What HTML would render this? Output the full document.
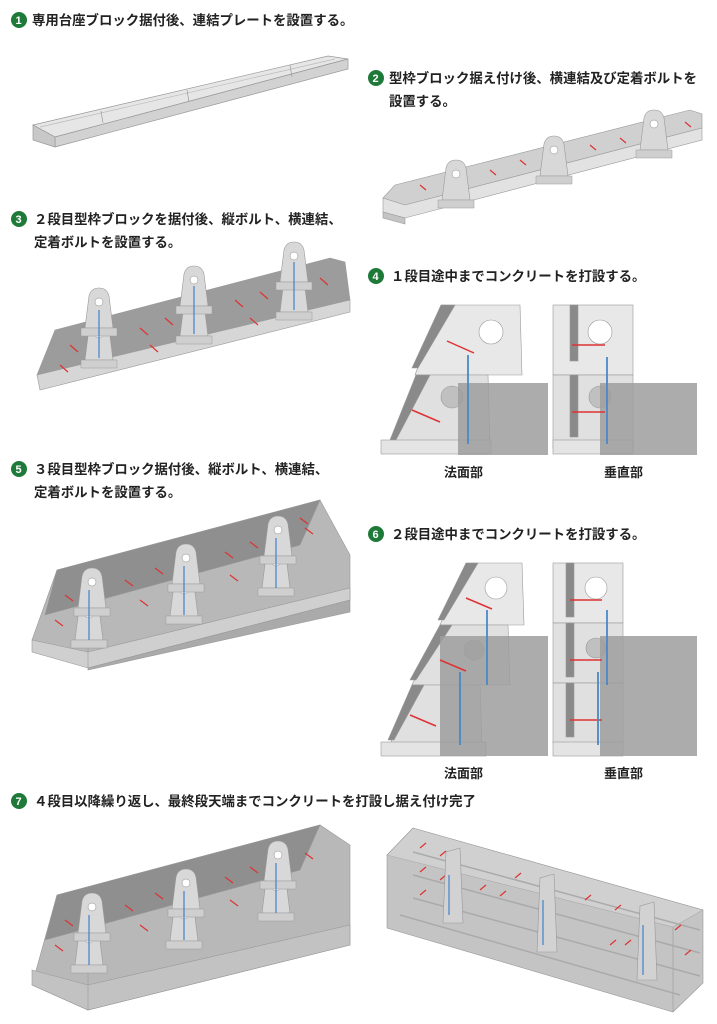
<!DOCTYPE html>
<html><head><meta charset="utf-8"><style>
body{margin:0;background:#fff;width:717px;height:1024px;overflow:hidden}
svg{display:block}
text{font-family:"Liberation Sans","Noto Sans CJK JP",sans-serif;font-weight:bold;fill:#222}
.h{font-size:13.4px}
.n{font-size:11px;fill:#fff}
.lb{font-size:13px}
</style></head><body>
<svg width="717" height="1024" viewBox="0 0 717 1024" xmlns="http://www.w3.org/2000/svg">
<defs>
<g id="but">
<path d="M0,40 L4,8 Q6,0 14,0 Q22,0 24,8 L28,40 Z" fill="#d8d8d8" stroke="#999" stroke-width="0.6"/>
<circle cx="14" cy="14" r="4" fill="#fff" stroke="#888" stroke-width="0.5"/>
<path d="M-4,40 h36 v8 h-36z" fill="#cfcfcf" stroke="#999" stroke-width="0.5"/>
</g>
</defs>

<g>
<circle cx="19" cy="20" r="8" fill="#1f7a3a"/><text class="n" x="15.5" y="24">1</text>
<text class="h" x="32" y="25">専用台座ブロック据付後、連結プレートを設置する。</text>

<circle cx="376" cy="78" r="8" fill="#1f7a3a"/><text class="n" x="372.5" y="82">2</text>
<text class="h" x="389" y="83">型枠ブロック据え付け後、横連結及び定着ボルトを</text>
<text class="h" x="389" y="106">設置する。</text>

<circle cx="19" cy="219" r="8" fill="#1f7a3a"/><text class="n" x="15.5" y="223">3</text>
<text class="h" x="34" y="224">２段目型枠ブロックを据付後、縦ボルト、横連結、</text>
<text class="h" x="34" y="247">定着ボルトを設置する。</text>

<circle cx="376" cy="276" r="8" fill="#1f7a3a"/><text class="n" x="372.5" y="280">4</text>
<text class="h" x="391" y="281">１段目途中までコンクリートを打設する。</text>

<circle cx="19" cy="469" r="8" fill="#1f7a3a"/><text class="n" x="15.5" y="473">5</text>
<text class="h" x="34" y="474">３段目型枠ブロック据付後、縦ボルト、横連結、</text>
<text class="h" x="34" y="497">定着ボルトを設置する。</text>

<circle cx="376" cy="534" r="8" fill="#1f7a3a"/><text class="n" x="372.5" y="538">6</text>
<text class="h" x="391" y="539">２段目途中までコンクリートを打設する。</text>

<circle cx="19" cy="801" r="8" fill="#1f7a3a"/><text class="n" x="15.5" y="805">7</text>
<text class="h" x="34" y="806">４段目以降繰り返し、最終段天端までコンクリートを打設し据え付け完了</text>

<text class="lb" x="444" y="477">法面部</text><text class="lb" x="604" y="477">垂直部</text>
<text class="lb" x="444" y="778">法面部</text><text class="lb" x="604" y="778">垂直部</text>
</g>

<g stroke="#999" stroke-width="0.7">
<polygon points="33,125 328,56 348,59 55,137" fill="#e6e6e6"/>
<polygon points="55,137 348,59 348,69 55,147" fill="#d2d2d2"/>
<polygon points="33,125 55,137 55,147 33,140" fill="#c8c8c8"/>
<line x1="40" y1="127" x2="335" y2="59" stroke="#bbb"/>
<line x1="101" y1="111" x2="103" y2="123"/><line x1="187" y1="90" x2="189" y2="102"/><line x1="290" y1="65" x2="292" y2="77"/>
</g>

<g stroke="#999" stroke-width="0.6">
<polygon points="395,185 690,110 702,114 702,128 405,205 383,198" fill="#d0d0d0"/>
<polygon points="383,198 405,205 702,128 702,140 405,218 383,212" fill="#e2e2e2"/>
<polygon points="383,212 405,218 405,224 383,218" fill="#c4c4c4"/>
<g stroke="#d33" stroke-width="1.2">
<line x1="420" y1="185" x2="426" y2="190"/><line x1="490" y1="170" x2="496" y2="175"/><line x1="520" y1="160" x2="526" y2="165"/><line x1="590" y1="145" x2="596" y2="150"/><line x1="620" y1="138" x2="626" y2="143"/><line x1="685" y1="122" x2="691" y2="127"/>
</g>
<use href="#but" x="442" y="160"/>
<use href="#but" x="540" y="136"/>
<use href="#but" x="640" y="110"/>
</g>

<g stroke="#999" stroke-width="0.6">
<polygon points="55,330 330,258 345,262 350,300 60,372 37,375" fill="#9c9c9c"/>
<polygon points="37,375 350,300 350,312 40,390" fill="#d6d6d6"/>
<g stroke="#d33" stroke-width="1.2">
<line x1="70" y1="345" x2="78" y2="352"/><line x1="140" y1="328" x2="148" y2="335"/><line x1="165" y1="318" x2="173" y2="325"/><line x1="235" y1="300" x2="243" y2="307"/><line x1="260" y1="292" x2="268" y2="299"/><line x1="320" y1="278" x2="328" y2="285"/>
<line x1="60" y1="365" x2="68" y2="372"/><line x1="150" y1="345" x2="158" y2="352"/><line x1="250" y1="318" x2="258" y2="325"/>
</g>
<use href="#but" x="85" y="320"/><use href="#but" x="85" y="288"/>
<use href="#but" x="180" y="296"/><use href="#but" x="180" y="266"/>
<use href="#but" x="280" y="272"/><use href="#but" x="280" y="242"/>
<g stroke="#4a88c8" stroke-width="1.3"><line x1="99" y1="310" x2="99" y2="358"/><line x1="194" y1="286" x2="194" y2="334"/><line x1="294" y1="262" x2="294" y2="310"/></g>
</g>

<g stroke="#999" stroke-width="0.6">
<polygon points="57,570 320,500 350,555 350,600 88,666 32,640" fill="#b8b8b8"/>
<polygon points="57,570 320,500 300,545 45,615" fill="#8f8f8f"/>
<polygon points="32,640 88,652 350,588 350,600 88,668 32,652" fill="#cfcfcf"/>
<polygon points="88,668 350,600 350,612 88,670" fill="#aaa"/>
<line x1="88" y1="640" x2="88" y2="668"/>
<g stroke="#d33" stroke-width="1.2">
<line x1="65" y1="595" x2="73" y2="601"/><line x1="125" y1="580" x2="133" y2="586"/><line x1="155" y1="568" x2="163" y2="574"/><line x1="225" y1="552" x2="233" y2="558"/><line x1="250" y1="542" x2="258" y2="548"/><line x1="305" y1="528" x2="313" y2="534"/><line x1="300" y1="518" x2="308" y2="524"/>
<line x1="55" y1="620" x2="63" y2="626"/><line x1="140" y1="600" x2="148" y2="606"/><line x1="230" y1="575" x2="238" y2="581"/>
</g>
<use href="#but" x="75" y="600"/><use href="#but" x="78" y="568"/>
<use href="#but" x="170" y="576"/><use href="#but" x="172" y="544"/>
<use href="#but" x="262" y="548"/><use href="#but" x="264" y="516"/>
<g stroke="#4a88c8" stroke-width="1.3"><line x1="89" y1="590" x2="89" y2="640"/><line x1="184" y1="566" x2="184" y2="615"/><line x1="276" y1="538" x2="276" y2="588"/></g>
</g>

<g stroke="#999" stroke-width="0.6">
<polygon points="57,895 320,825 350,845 350,945 88,1010 32,985" fill="#b8b8b8"/>
<polygon points="57,895 320,825 300,870 45,940" fill="#8f8f8f"/>
<polygon points="32,970 88,985 350,925 350,945 88,1010 32,985" fill="#c2c2c2"/>
<line x1="88" y1="960" x2="88" y2="1010"/>
<g stroke="#d33" stroke-width="1.2">
<line x1="65" y1="920" x2="73" y2="926"/><line x1="125" y1="905" x2="133" y2="911"/><line x1="155" y1="893" x2="163" y2="899"/><line x1="225" y1="877" x2="233" y2="883"/><line x1="250" y1="867" x2="258" y2="873"/><line x1="305" y1="853" x2="313" y2="859"/>
<line x1="55" y1="945" x2="63" y2="951"/><line x1="140" y1="925" x2="148" y2="931"/><line x1="230" y1="900" x2="238" y2="906"/>
</g>
<use href="#but" x="75" y="925"/><use href="#but" x="78" y="893"/>
<use href="#but" x="170" y="901"/><use href="#but" x="172" y="869"/>
<use href="#but" x="262" y="873"/><use href="#but" x="264" y="841"/>
<g stroke="#4a88c8" stroke-width="1.3"><line x1="89" y1="915" x2="89" y2="965"/><line x1="184" y1="891" x2="184" y2="940"/><line x1="276" y1="863" x2="276" y2="913"/></g>
</g>

<g stroke="#999" stroke-width="0.6">
<polygon points="413,828 703,910 703,983 673,1012 387,928 387,855" fill="#c4c4c4"/>
<polygon points="413,828 703,910 673,927 387,855" fill="#d8d8d8" opacity="0.6"/>
<line x1="673" y1="927" x2="673" y2="1012"/>
<g stroke="#aaa" stroke-width="1.5" fill="none">
<line x1="413" y1="852" x2="700" y2="930"/><line x1="413" y1="875" x2="700" y2="953"/><line x1="413" y1="898" x2="700" y2="976"/><line x1="400" y1="915" x2="680" y2="995"/>
</g>
<g stroke="#d33" stroke-width="1.2">
<line x1="420" y1="848" x2="426" y2="843"/><line x1="440" y1="856" x2="446" y2="851"/><line x1="420" y1="872" x2="426" y2="867"/><line x1="440" y1="880" x2="446" y2="875"/><line x1="420" y1="895" x2="426" y2="890"/>
<line x1="480" y1="890" x2="486" y2="885"/><line x1="500" y1="896" x2="506" y2="891"/><line x1="515" y1="878" x2="521" y2="873"/><line x1="540" y1="906" x2="546" y2="901"/><line x1="585" y1="900" x2="591" y2="895"/><line x1="615" y1="910" x2="621" y2="905"/><line x1="625" y1="945" x2="631" y2="940"/><line x1="675" y1="930" x2="681" y2="925"/><line x1="685" y1="955" x2="691" y2="950"/><line x1="610" y1="945" x2="616" y2="940"/>
</g>
<polygon points="443,923 446,852 460,848 463,923" fill="#d2d2d2"/>
<polygon points="537,952 540,878 554,874 557,952" fill="#d2d2d2"/>
<polygon points="637,980 640,906 654,902 657,980" fill="#d2d2d2"/>
<g stroke="#4a88c8" stroke-width="1.3"><line x1="449" y1="875" x2="449" y2="915"/><line x1="543" y1="900" x2="543" y2="945"/><line x1="643" y1="925" x2="643" y2="975"/></g>
</g>

<g stroke="#999" stroke-width="0.6">
<polygon points="441,305 520,305 522,375 415,375" fill="#e8e8e8"/>
<polygon points="441,305 455,305 418,368 412,368" fill="#8a8a8a"/>
<polygon points="416,375 488,375 490,448 390,448" fill="#e0e0e0"/>
<polygon points="416,375 430,375 396,440 390,440" fill="#8a8a8a"/>
<circle cx="491" cy="332" r="12" fill="#fff"/>
<circle cx="452" cy="397" r="11" fill="#c0c0c0"/>
<rect x="381" y="440" width="110" height="14" fill="#e4e4e4"/>
<rect x="458" y="383" width="90" height="72" fill="#9e9e9e" opacity="0.85" stroke="none"/>
<line x1="447" y1="341" x2="474" y2="353" stroke="#d33" stroke-width="1.5"/>
<line x1="412" y1="410" x2="440" y2="422" stroke="#d33" stroke-width="1.5"/>
<line x1="468" y1="355" x2="468" y2="444" stroke="#4a88c8" stroke-width="1.8"/>
<rect x="553" y="305" width="80" height="70" fill="#e8e8e8"/>
<rect x="570" y="305" width="8" height="56" fill="#8a8a8a"/>
<rect x="553" y="375" width="80" height="73" fill="#e0e0e0"/>
<rect x="570" y="375" width="8" height="62" fill="#8a8a8a"/>
<circle cx="600" cy="332" r="12" fill="#fff"/>
<circle cx="600" cy="397" r="11" fill="#c0c0c0"/>
<rect x="553" y="440" width="80" height="14" fill="#e4e4e4"/>
<rect x="600" y="383" width="97" height="72" fill="#9e9e9e" opacity="0.85" stroke="none"/>
<line x1="572" y1="345" x2="605" y2="345" stroke="#d33" stroke-width="1.5"/>
<line x1="572" y1="412" x2="605" y2="412" stroke="#d33" stroke-width="1.5"/>
<line x1="607" y1="357" x2="607" y2="444" stroke="#4a88c8" stroke-width="1.8"/>
</g>

<g stroke="#999" stroke-width="0.6">
<polygon points="466,563 522,563 524,625 440,625" fill="#e8e8e8"/>
<polygon points="466,563 478,563 444,620 438,620" fill="#8a8a8a"/>
<polygon points="440,625 508,625 510,685 412,685" fill="#e0e0e0"/>
<polygon points="440,625 452,625 416,680 410,680" fill="#8a8a8a"/>
<polygon points="412,685 480,685 482,745 390,745" fill="#e0e0e0"/>
<polygon points="412,685 424,685 394,740 388,740" fill="#8a8a8a"/>
<circle cx="496" cy="588" r="11" fill="#fff"/>
<circle cx="474" cy="650" r="10" fill="#c0c0c0"/>
<rect x="381" y="742" width="105" height="14" fill="#e4e4e4"/>
<rect x="440" y="636" width="108" height="120" fill="#9e9e9e" opacity="0.85" stroke="none"/>
<line x1="466" y1="598" x2="492" y2="609" stroke="#d33" stroke-width="1.5"/>
<line x1="440" y1="660" x2="466" y2="671" stroke="#d33" stroke-width="1.5"/>
<line x1="410" y1="715" x2="436" y2="726" stroke="#d33" stroke-width="1.5"/>
<line x1="487" y1="610" x2="487" y2="685" stroke="#4a88c8" stroke-width="1.8"/>
<line x1="460" y1="672" x2="460" y2="745" stroke="#4a88c8" stroke-width="1.8"/>
<rect x="553" y="563" width="70" height="60" fill="#e8e8e8"/>
<rect x="566" y="563" width="8" height="54" fill="#8a8a8a"/>
<rect x="553" y="623" width="70" height="60" fill="#e0e0e0"/>
<rect x="566" y="623" width="8" height="54" fill="#8a8a8a"/>
<rect x="553" y="683" width="70" height="60" fill="#e0e0e0"/>
<rect x="566" y="683" width="8" height="54" fill="#8a8a8a"/>
<circle cx="596" cy="588" r="11" fill="#fff"/>
<circle cx="596" cy="648" r="10" fill="#c0c0c0"/>
<rect x="553" y="742" width="70" height="14" fill="#e4e4e4"/>
<rect x="600" y="636" width="97" height="120" fill="#9e9e9e" opacity="0.85" stroke="none"/>
<line x1="570" y1="600" x2="602" y2="600" stroke="#d33" stroke-width="1.5"/>
<line x1="570" y1="660" x2="602" y2="660" stroke="#d33" stroke-width="1.5"/>
<line x1="570" y1="720" x2="602" y2="720" stroke="#d33" stroke-width="1.5"/>
<line x1="607" y1="610" x2="607" y2="685" stroke="#4a88c8" stroke-width="1.8"/>
<line x1="598" y1="672" x2="598" y2="745" stroke="#4a88c8" stroke-width="1.8"/>
</g>
</svg>
</body></html>
